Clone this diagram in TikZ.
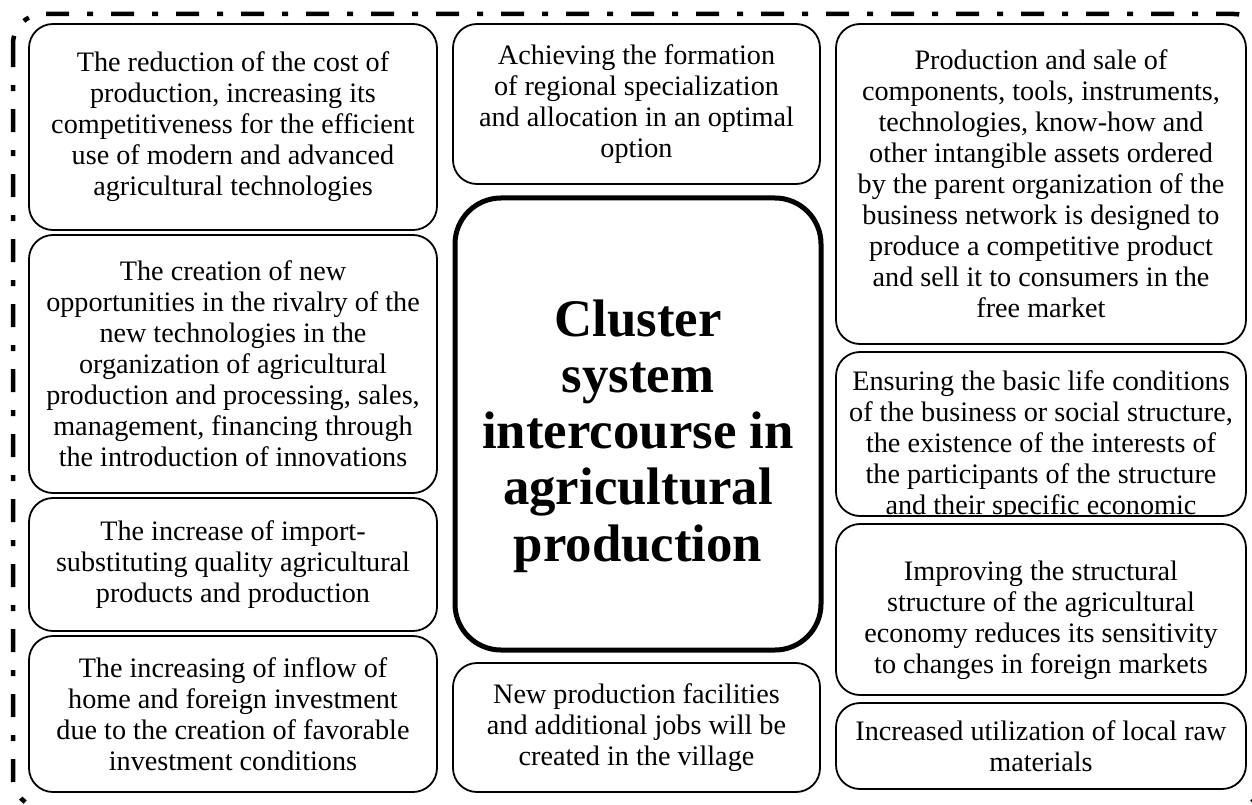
\documentclass[tikz,border=0pt]{standalone}
\usepackage{fontspec}
\setmainfont{Liberation Serif}

\begin{document}
\begin{tikzpicture}[x=1bp, y=1bp, yscale=-1,
    box/.style={draw, line width=1.8bp, rounded corners=24bp, align=center, inner sep=0pt,
        font=\fontsize{28.3}{31.1}\selectfont},
    boxText/.style={align=center, inner xsep=0pt, font=\fontsize{28.3}{31.1}\selectfont},
    coreBox/.style={draw, line width=5bp, rounded corners=46bp, inner sep=0pt},
    coreText/.style={align=center, inner sep=0pt, font=\bfseries\fontsize{53}{56.5}\selectfont}]
    % Page frame
    \useasboundingbox (0,0) rectangle (1252,805);
    \clip (0,0) rectangle (1252,805);

    % Outer dash-dot frame (runs off the page on the right and bottom)
    \draw[line width=4.5bp, dash pattern=on 23bp off 18bp on 6bp off 18bp, rounded corners=30bp]
        (13,14) rectangle (1264,808);

    % Left column
    \node[box, minimum width=408bp, minimum height=206bp] (costCut) at (233,127)
        {The reduction of the cost of\\ production, increasing its\\ competitiveness for the efficient\\ use of modern and advanced\\ agricultural technologies};
    \node[box, minimum width=408bp, minimum height=258bp] (newChances) at (233,364)
        {The creation of new\\ opportunities in the rivalry of the\\ new technologies in the\\ organization of agricultural\\ production and processing, sales,\\ management, financing through\\ the introduction of innovations};
    \node[box, minimum width=408bp, minimum height=133bp] (importSub) at (233,564.5)
        {The increase of import-\\ substituting quality agricultural\\ products and production};
    \node[box, minimum width=408bp, minimum height=156bp] (investFlow) at (233,714)
        {The increasing of inflow of\\ home and foreign investment\\ due to the creation of favorable\\ investment conditions};

    % Middle column
    \node[box, minimum width=367bp, minimum height=160bp] (regionSpec) at (636.5,104)
        {Achieving the formation\\ of regional specialization\\ and allocation in an optimal\\ option};
    \node[coreBox, minimum width=366bp, minimum height=452bp] (cluster) at (638,424) {};
    \node[coreText] (clusterText) at (638,436)
        {Cluster\\ system\\ intercourse in\\ agricultural\\ production};
    \node[box, minimum width=367bp, minimum height=129bp] (newJobs) at (636.5,727.5)
        {New production facilities\\ and additional jobs will be\\ created in the village};

    % Right column
    \node[box, minimum width=410bp, minimum height=320bp] (parentOrg) at (1041,184)
        {Production and sale of\\ components, tools, instruments,\\ technologies, know-how and\\ other intangible assets ordered\\ by the parent organization of the\\ business network is designed to\\ produce a competitive product\\ and sell it to consumers in the\\ free market};
    \node[box, minimum width=410bp, minimum height=164bp,
        path picture={\node[boxText, anchor=north, inner ysep=18bp] (basicLifeText)
            at (path picture bounding box.north)
            {Ensuring the basic life conditions\\ of the business or social structure,\\ the existence of the interests of\\ the participants of the structure\\ and their specific economic};}]
        (basicLife) at (1041,434) {};
    \node[box, minimum width=410bp, minimum height=171bp] (agriEconomy) at (1041,609.5) {};
    \node[boxText] (agriEconomyText) at (1041,620)
        {Improving the structural\\ structure of the agricultural\\ economy reduces its sensitivity\\ to changes in foreign markets};
    \node[box, minimum width=410bp, minimum height=86bp] (rawMaterials) at (1041,746)
        {Increased utilization of local raw\\ materials};
\end{tikzpicture}
\end{document}
